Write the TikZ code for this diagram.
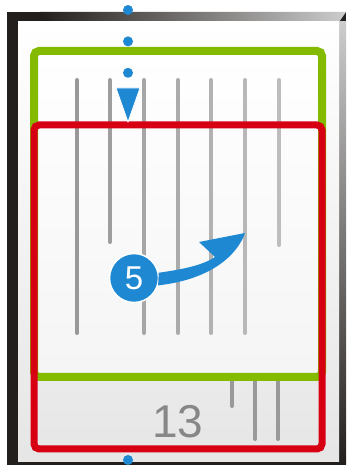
\documentclass[tikz,border=0pt]{standalone}
\usepackage{fontspec}
\setmainfont{Liberation Sans}
\usepackage{xcolor}
\definecolor{pageblue}{RGB}{30,136,210}
\definecolor{pagegreen}{RGB}{132,186,0}
\definecolor{pagered}{RGB}{214,0,18}
\definecolor{pagegrey}{RGB}{135,135,135}
\definecolor{framedark}{RGB}{35,31,28}
\usetikzlibrary{arrows.meta,positioning,calc}
\tikzset{
  dot/.style={circle,fill=pageblue,inner sep=0pt,minimum size=10pt},
  rule/.style={line width=4pt,line cap=round},
  gbox/.style={draw=pagegreen,line width=8pt,rounded corners=5pt},
  rbox/.style={draw=pagered,line width=7pt,rounded corners=5pt},
  badge/.style={circle,fill=pageblue,draw=white,line width=1.5pt,minimum size=49pt,inner sep=0pt,text=white,font=\fontsize{33}{33}\selectfont},
  pointer/.style={fill=pageblue,draw=white,line width=0.8pt,line join=miter},
  curlarrow/.style={fill=pageblue},
  lab/.style={text=pagegrey,font=\fontsize{46}{46}\selectfont},
}

\begin{document}
\begin{tikzpicture}[x=1pt,y=1pt]
  \useasboundingbox (0,0) rectangle (346,465);
  % device frame
  \fill[framedark] (7,0) rectangle (346,453);
  \shade[left color=framedark,right color=black!20] (40,453) -- (346,453) -- (339,443) -- (52,443) -- cycle;
  \shade[top color=black!20,bottom color=framedark] (339,0) rectangle (346,443);
  % page
  \shade[top color=white,bottom color=black!10] (18,3) rectangle (339,443);
  \shade[top color=white,bottom color=black!4] (34,88) rectangle (322,414);
  % text lines
  \foreach \x/\y/\s in {77/132/40,110/223/38,144/132/35,178/132/33,211/132/30,245/132/28,279/220/26}
    \draw[rule,draw=black!\s] (\x,385) -- (\x,\y);
  \foreach \x/\y in {232/59,255/26,278/26}
    \draw[rule,draw=black!40] (\x,90) -- (\x,\y);
  \node[lab] (num) at (178,43) {13};
  % frames
  \draw[gbox] (34,88) rectangle (322,414);
  \draw[rbox] (34,16) rectangle (322,340);
  % scroll marker
  \node[dot] (d1) at (128,455) {};
  \node[dot] (d2) [below=21pt of d1] {};
  \node[dot] (d3) [below=21pt of d2] {};
  \node[dot] (d4) at (128,5) {};
  \draw[pointer] (116,377) -- (140,377) -- (128,343) -- cycle;
  % step 5
  \node[badge] (five) at (134,187) {5};
  \coordinate (aim) at (245,232);
  \fill[curlarrow] (five.12) .. controls (185,196) and (203,200) .. (215,208)
    -- (199,223) -- (aim) .. controls (238,212) and (214,186) .. (five.-17) -- cycle;
\end{tikzpicture}
\end{document}
